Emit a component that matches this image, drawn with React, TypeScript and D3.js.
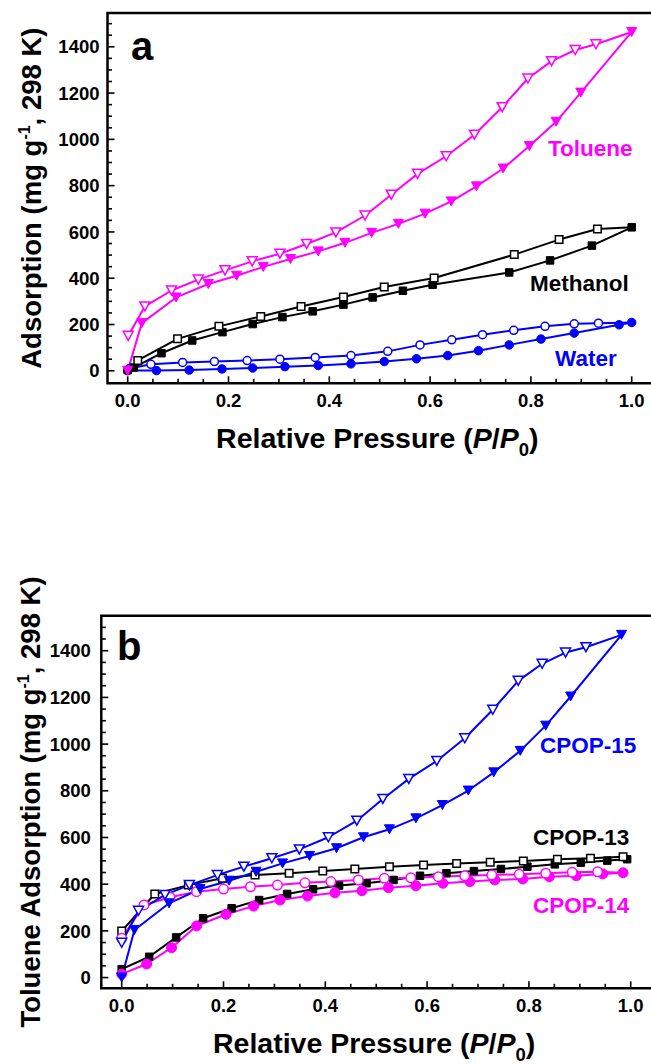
import React from "react";
import * as d3 from "d3";

// ---------- Panel a data ----------
const tolAdsX = [0.0, 0.028, 0.096, 0.16, 0.216, 0.269, 0.323, 0.378, 0.431, 0.484, 0.537, 0.59, 0.642, 0.692, 0.745, 0.797, 0.85, 0.899, 1.0];
const tolAdsY = [0, 206, 317, 375, 411, 449, 483, 516, 553, 596, 635, 679, 732, 797, 874, 971, 1076, 1202, 1464];
const tolDesX = [0.001, 0.034, 0.087, 0.14, 0.193, 0.247, 0.302, 0.355, 0.413, 0.471, 0.523, 0.575, 0.632, 0.688, 0.743, 0.794, 0.841, 0.888, 0.929];
const tolDesY = [151, 278, 347, 394, 434, 473, 506, 548, 598, 671, 761, 851, 927, 1020, 1139, 1263, 1338, 1386, 1411];

const metAdsX = [0.0, 0.012, 0.067, 0.128, 0.188, 0.248, 0.307, 0.367, 0.428, 0.486, 0.546, 0.605, 0.757, 0.838, 0.921, 1.0];
const metAdsY = [3, 14, 76, 131, 167, 202, 232, 257, 286, 317, 346, 372, 425, 477, 541, 620];
const metDesX = [0.02, 0.099, 0.181, 0.264, 0.344, 0.428, 0.509, 0.608, 0.767, 0.856, 0.932];
const metDesY = [45, 138, 192, 235, 278, 319, 362, 401, 502, 567, 613];

const watAdsX = [0.0, 0.057, 0.122, 0.187, 0.248, 0.312, 0.378, 0.443, 0.509, 0.573, 0.635, 0.696, 0.757, 0.82, 0.886, 0.975, 1.0];
const watAdsY = [1, 1, 3, 8, 12, 18, 23, 30, 40, 52, 66, 87, 112, 137, 163, 199, 209];
const watDesX = [0.004, 0.046, 0.109, 0.172, 0.237, 0.302, 0.372, 0.443, 0.516, 0.58, 0.643, 0.704, 0.766, 0.828, 0.886, 0.934];
const watDesY = [10, 28, 36, 40, 44, 50, 58, 66, 84, 112, 134, 156, 175, 192, 203, 206];

// ---------- Panel b data ----------
const c15AdsX = [0.0, 0.025, 0.093, 0.154, 0.211, 0.264, 0.316, 0.369, 0.422, 0.475, 0.526, 0.578, 0.63, 0.681, 0.731, 0.783, 0.833, 0.882, 0.982];
const c15AdsY = [0, 204, 318, 379, 415, 453, 489, 521, 554, 601, 635, 682, 739, 801, 879, 971, 1079, 1204, 1468];
const c15DesX = [0.0, 0.033, 0.085, 0.133, 0.188, 0.24, 0.295, 0.349, 0.406, 0.462, 0.513, 0.564, 0.619, 0.674, 0.729, 0.779, 0.826, 0.872, 0.912];
const c15DesY = [149, 286, 354, 396, 439, 475, 511, 549, 601, 672, 765, 851, 928, 1025, 1147, 1271, 1344, 1392, 1415];

const c13AdsX = [0.0, 0.054, 0.107, 0.16, 0.216, 0.27, 0.325, 0.376, 0.427, 0.481, 0.534, 0.586, 0.638, 0.692, 0.745, 0.797, 0.851, 0.902, 0.954, 0.993];
const c13AdsY = [36, 89, 172, 254, 297, 332, 358, 378, 394, 404, 418, 436, 447, 456, 465, 475, 485, 492, 501, 507];
const c13DesX = [0.0, 0.065, 0.131, 0.198, 0.262, 0.329, 0.395, 0.458, 0.526, 0.593, 0.658, 0.724, 0.789, 0.856, 0.921, 0.985];
const c13DesY = [199, 358, 396, 425, 439, 447, 456, 465, 475, 482, 489, 494, 499, 507, 511, 518];

const c14AdsX = [0.0, 0.049, 0.098, 0.147, 0.205, 0.259, 0.311, 0.365, 0.419, 0.472, 0.524, 0.578, 0.631, 0.684, 0.733, 0.788, 0.84, 0.893, 0.945, 0.985];
const c14AdsY = [15, 58, 128, 221, 271, 306, 332, 349, 363, 372, 385, 393, 404, 411, 418, 422, 432, 436, 444, 449];
const c14DesX = [0.0, 0.044, 0.095, 0.147, 0.2, 0.253, 0.306, 0.36, 0.411, 0.465, 0.516, 0.568, 0.622, 0.674, 0.727, 0.781, 0.833, 0.885, 0.935];
const c14DesY = [168, 311, 344, 368, 379, 389, 396, 406, 411, 418, 425, 428, 432, 436, 439, 442, 447, 451, 453];

const yTickValues = [0, 200, 400, 600, 800, 1000, 1200, 1400];
const xTickValues = [0, 0.2, 0.4, 0.6, 0.8, 1.0];

const MAGENTA = "#ff00ff";
const BLUE = "#0000ff";
const BLACK = "#000000";
const FONT = "'Liberation Sans', Arial, Helvetica, sans-serif";

type Marker = "tri" | "sq" | "circ";
type Curve = {
  xs: number[];
  ys: number[];
  color: string;
  marker: Marker;
  filled: boolean;
  size: number;
  end?: [number, number];
};

function markerPath(m: Marker, s: number): string {
  if (m === "tri") {
    const w = s, h = s * 0.9;
    return `M${-w / 2},${-h / 2}L${w / 2},${-h / 2}L0,${h / 2}Z`;
  }
  if (m === "sq") {
    return `M${-s / 2},${-s / 2}h${s}v${s}h${-s}Z`;
  }
  const r = s / 2;
  return `M${r},0A${r},${r} 0 1,1 ${-r},0A${r},${r} 0 1,1 ${r},0Z`;
}

type PanelProps = {
  frame: { left: number; right: number; top: number; bottom: number };
  x0: number; x1: number;
  yDomain: [number, number];
  curves: Curve[];
  letter: string;
  letterPos: [number, number];
  labels: { text: string; x: number; y: number; color: string }[];
  yTitlePrefix: string;
  yTitleX: number;
  yLabelGap: number;
};

function Panel(p: PanelProps) {
  const { frame } = p;
  const xs = d3.scaleLinear().domain([0, 1]).range([p.x0, p.x1]);
  const ys = d3.scaleLinear().domain(p.yDomain).range([frame.bottom, frame.top]);
  const minorX = d3.range(0, 21).map((i) => i * 0.05);
  const minorY = d3.range(0, 31).map((i) => i * 50);
  const line = d3
    .line<[number, number]>()
    .x((d) => xs(d[0]))
    .y((d) => ys(d[1]));
  const yMid = (frame.top + frame.bottom) / 2;
  const xMid = (frame.left + 651) / 2;

  return (
    <g>
      {p.curves.map((c, ci) => {
        const pts: [number, number][] = c.xs.map((x, i) => [x, c.ys[i]]);
        const linePts = c.end ? [...pts, c.end] : pts;
        return (
          <path key={ci} d={line(linePts) || ""} fill="none" stroke={c.color} strokeWidth={2} strokeLinejoin="round" />
        );
      })}
      {p.curves.map((c, ci) => (
        <g key={"m" + ci}>
          {c.xs.map((x, i) => (
            <path
              key={i}
              d={markerPath(c.marker, c.size)}
              transform={`translate(${xs(x)},${ys(c.ys[i])})`}
              fill={c.filled ? c.color : "#ffffff"}
              stroke={c.color}
              strokeWidth={c.filled ? 1 : 1.5}
            />
          ))}
        </g>
      ))}
      <path
        d={`M${frame.right},${frame.top}H${frame.left}V${frame.bottom}H${frame.right}`}
        fill="none"
        stroke="#000"
        strokeWidth={2.5}
      />
      {minorX.map((v, i) => {
        const major = i % 4 === 0;
        return (
          <line key={"xt" + i} x1={xs(v)} x2={xs(v)} y1={frame.bottom} y2={frame.bottom - (major ? 7 : 4.5)} stroke="#000" strokeWidth={1.6} />
        );
      })}
      {minorY.filter((v) => ys(v) > frame.top + 3).map((v, i) => {
        const major = v % 200 === 0;
        return (
          <line key={"yt" + i} x1={frame.left} x2={frame.left + (major ? 7 : 4.5)} y1={ys(v)} y2={ys(v)} stroke="#000" strokeWidth={1.6} />
        );
      })}
      {xTickValues.map((v) => (
        <text key={"xl" + v} x={xs(v)} y={frame.bottom + 24} textAnchor="middle" fontFamily={FONT} fontWeight="bold" fontSize={18.5}>
          {v.toFixed(1)}
        </text>
      ))}
      {yTickValues.map((v) => (
        <text key={"yl" + v} x={frame.left - p.yLabelGap} y={ys(v)} dy="0.36em" textAnchor="end" fontFamily={FONT} fontWeight="bold" fontSize={18.5}>
          {v}
        </text>
      ))}
      <text x={xMid - 2} y={frame.bottom + 65} textAnchor="middle" fontFamily={FONT} fontWeight="bold" fontSize={28.5}>
        Relative Pressure (<tspan fontStyle="italic">P</tspan>/<tspan fontStyle="italic">P</tspan>
        <tspan fontSize={18.5} dy={8}>0</tspan>
        <tspan dy={-8}>)</tspan>
      </text>
      <text
        transform={`translate(${p.yTitleX},${yMid}) rotate(-90)`}
        textAnchor="middle"
        fontFamily={FONT}
        fontWeight="bold"
        fontSize={27.5}
      >
        {p.yTitlePrefix}Adsorption (mg g<tspan fontSize={16} dy={-11}>-1</tspan>
        <tspan dy={11}>, 298 K)</tspan>
      </text>
      <text x={p.letterPos[0]} y={p.letterPos[1]} fontFamily={FONT} fontWeight="bold" fontSize={40}>
        {p.letter}
      </text>
      {p.labels.map((l) => (
        <text key={l.text} x={l.x} y={l.y} fill={l.color} fontFamily={FONT} fontWeight="bold" fontSize={22.5}>
          {l.text}
        </text>
      ))}
    </g>
  );
}

export default function App() {
  const curvesA: Curve[] = [
    { xs: watAdsX, ys: watAdsY, color: BLUE, marker: "circ", filled: true, size: 8.5 },
    { xs: watDesX, ys: watDesY, color: BLUE, marker: "circ", filled: false, size: 8, end: [watAdsX[watAdsX.length - 1], watAdsY[watAdsY.length - 1]] },
    { xs: metAdsX, ys: metAdsY, color: BLACK, marker: "sq", filled: true, size: 7.5 },
    { xs: metDesX, ys: metDesY, color: BLACK, marker: "sq", filled: false, size: 7.5, end: [metAdsX[metAdsX.length - 1], metAdsY[metAdsY.length - 1]] },
    { xs: tolAdsX, ys: tolAdsY, color: MAGENTA, marker: "tri", filled: true, size: 10 },
    { xs: tolDesX, ys: tolDesY, color: MAGENTA, marker: "tri", filled: false, size: 10, end: [tolAdsX[tolAdsX.length - 1], tolAdsY[tolAdsY.length - 1]] },
  ];
  const curvesB: Curve[] = [
    { xs: c13AdsX, ys: c13AdsY, color: BLACK, marker: "sq", filled: true, size: 7.5 },
    { xs: c13DesX, ys: c13DesY, color: BLACK, marker: "sq", filled: false, size: 7.5, end: [c13AdsX[c13AdsX.length - 1], c13AdsY[c13AdsY.length - 1]] },
    { xs: c14AdsX, ys: c14AdsY, color: MAGENTA, marker: "circ", filled: true, size: 10 },
    { xs: c14DesX, ys: c14DesY, color: MAGENTA, marker: "circ", filled: false, size: 9.5, end: [c14AdsX[c14AdsX.length - 1], c14AdsY[c14AdsY.length - 1]] },
    { xs: c15AdsX, ys: c15AdsY, color: BLUE, marker: "tri", filled: true, size: 10 },
    { xs: c15DesX, ys: c15DesY, color: BLUE, marker: "tri", filled: false, size: 10, end: [c15AdsX[c15AdsX.length - 1], c15AdsY[c15AdsY.length - 1]] },
  ];

  return (
    <svg width={651} height={1064} style={{ position: "absolute", left: 0, top: 0, background: "#fff" }}>
      <rect width={651} height={1064} fill="#fff" />
      <Panel
        frame={{ left: 107.5, right: 654, top: 13, bottom: 383.3 }}
        x0={127.7}
        x1={631.7}
        yDomain={[-54, 1546]}
        curves={curvesA}
        letter="a"
        letterPos={[131, 60]}
        labels={[
          { text: "Toluene", x: 548, y: 156, color: MAGENTA },
          { text: "Methanol", x: 530, y: 291, color: BLACK },
          { text: "Water", x: 555, y: 366, color: BLUE },
        ]}
        yTitlePrefix=""
        yTitleX={41}
        yLabelGap={8}
      />
      <Panel
        frame={{ left: 101.3, right: 654, top: 615.7, bottom: 988.3 }}
        x0={121.7}
        x1={630.7}
        yDomain={[-46, 1550]}
        curves={curvesB}
        letter="b"
        letterPos={[117, 660]}
        labels={[
          { text: "CPOP-15", x: 540, y: 753, color: BLUE },
          { text: "CPOP-13", x: 533, y: 845, color: BLACK },
          { text: "CPOP-14", x: 533, y: 913, color: MAGENTA },
        ]}
        yTitlePrefix="Toluene "
        yTitleX={40}
        yLabelGap={10.5}
      />
    </svg>
  );
}
